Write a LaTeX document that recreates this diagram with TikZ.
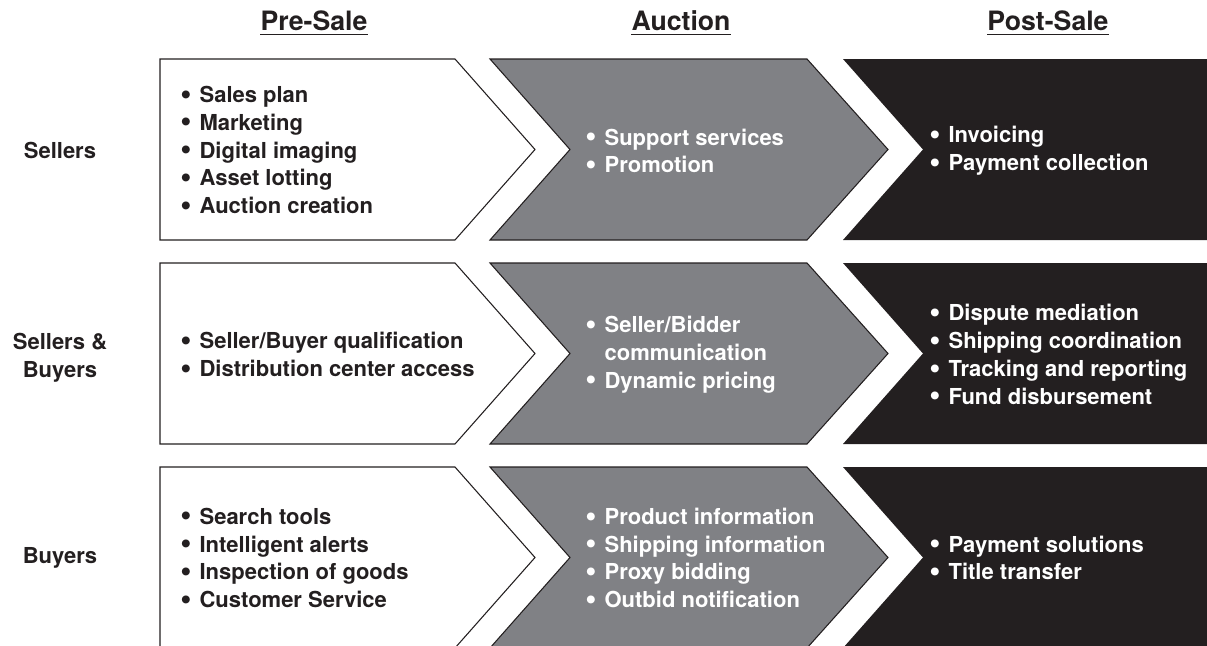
\documentclass[tikz,border=0pt]{standalone}
\usepackage{fontspec}
\setmainfont{TeX Gyre Heros}
\definecolor{ink}{HTML}{231F20}
\definecolor{midgray}{HTML}{808185}
\newcommand{\bl}{\makebox[14.5pt][l]{\smash{\raisebox{-0.07em}{\scalebox{1.45}{\textbullet}}}}}
\newcommand{\nb}{\hspace*{14.5pt}}
\begin{document}
\begin{tikzpicture}[x=0.75pt,y=-0.75pt,
  txt/.style={font=\bfseries\fontsize{16.5}{20.8}\selectfont, align=left, anchor=west, inner sep=0pt},
  darktxt/.style={txt, text=ink},
  lighttxt/.style={txt, text=white},
  hdr/.style={font=\bfseries\fontsize{20}{23}\selectfont, text=ink, inner sep=0pt, anchor=base},
  rowlbl/.style={font=\bfseries\fontsize{16.5}{20.8}\selectfont, text=ink, align=center, inner sep=0pt},
  preshape/.style={draw=ink, fill=white, line width=0.8pt, line join=miter},
  aucshape/.style={draw=ink, fill=midgray, line width=0.8pt, line join=miter},
  postshape/.style={fill=ink},
  uline/.style={draw=ink, line width=1.3pt}
]
\useasboundingbox (0,0) rectangle (1207,646);

% headers
\node[hdr] (hpre)  at (314,31) {Pre-Sale};
\node[hdr] (hauc)  at (681,31) {Auction};
\node[hdr] (hpost) at (1048,31) {Post-Sale};
\foreach \h in {hpre,hauc,hpost}
  \draw[uline] ([yshift=-2.6pt]\h.base west) -- ([yshift=-2.6pt]\h.base east);

% chevrons, rows: top/bottom/mid
\foreach \t/\b/\m in {59/240/149.5, 263/444/353.5, 467/648/557.5}{
  \path[preshape] (160,\t) -- (455,\t) -- (535,\m) -- (455,\b) -- (160,\b) -- cycle;
  \path[aucshape] (490,\t) -- (807,\t) -- (888,\m) -- (807,\b) -- (490,\b) -- (570,\m) -- cycle;
  \path[postshape] (843,\t) -- (1215,\t) -- (1215,\b) -- (843,\b) -- (923,\m) -- cycle;
}

% row labels
\node[rowlbl] (r1) at (60,150) {Sellers};
\node[rowlbl] (r2) at (60,357.5) {Sellers \&\\Buyers};
\node[rowlbl] (r3) at (60,558) {Buyers};

% row 1
\node[darktxt] (p1) at (180,150) {\bl Sales plan\\\bl Marketing\\\bl Digital imaging\\\bl Asset lotting\\\bl Auction creation};
\node[lighttxt] (a1) at (585,151) {\bl Support services\\\bl Promotion};
\node[lighttxt] (s1) at (929,151) {\bl Invoicing\\\bl Payment collection};

% row 2
\node[darktxt] (p2) at (180,354.5) {\bl Seller/Buyer qualification\\\bl Distribution center access};
\node[lighttxt] (a2) at (585,354.5) {\bl Seller/Bidder\\\nb communication\\\bl Dynamic pricing};
\node[lighttxt] (s2) at (929,354.5) {\bl Dispute mediation\\\bl Shipping coordination\\\bl Tracking and reporting\\\bl Fund disbursement};

% row 3
\node[darktxt] (p3) at (180,558) {\bl Search tools\\\bl Intelligent alerts\\\bl Inspection of goods\\\bl Customer Service};
\node[lighttxt] (a3) at (585,558) {\bl Product information\\\bl Shipping information\\\bl Proxy bidding\\\bl Outbid notification};
\node[lighttxt] (s3) at (929,558) {\bl Payment solutions\\\bl Title transfer};
\end{tikzpicture}
\end{document}
